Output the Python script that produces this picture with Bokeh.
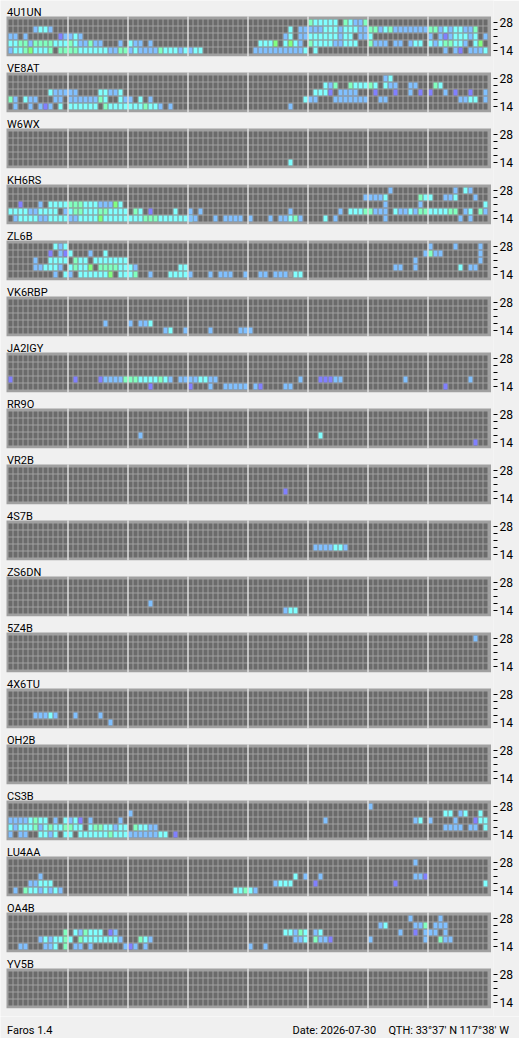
from bokeh.plotting import figure
from bokeh.layouts import column
from bokeh.models import Range1d, LinearAxis, FixedTicker, ColumnDataSource
from bokeh.embed import file_html
from bokeh.resources import INLINE
from bokeh.core.properties import value

# ---------------- data ----------------
STATIONS = ["4U1UN", "VE8AT", "W6WX", "KH6RS", "ZL6B", "VK6RBP", "JA2IGY", "RR9O", "VR2B",
            "4S7B", "ZS6DN", "5Z4B", "4X6TU", "OH2B", "CS3B", "LU4AA", "OA4B", "YV5B"]
BAND_LABELS = ["28", "", "", "", "14"]      # rows top -> bottom (28, 24, 21, 18, 14 MHz)
N_SLOTS = 96                                 # time slots per day
SLOTS_PER_BLOCK = 12
# signal level codes -> colours ('x' = no data)
LEVEL_COLORS = {"p": "#8080ff", "l": "#80c0ff", "c": "#80ffff",
                "a": "#80ffc0", "g": "#80ff80", "x": "#a0a0a0"}

# heard beacons: (band row, first slot, level codes; '.' = not heard)
S_4U1UN = [(0, 60, "accccc.aclla"),
           (1, 5, "lccl"), (1, 56, "c.lllllccclcccllaalcalllllllaalclcclla"),
           (2, 0, "ll.l"), (2, 10, "pllcl"), (2, 55, "lc.llcccccclcc.llc"), (2, 84, "l.lplccclc.l"),
           (3, 0, "ccaalaaaacccacllall"), (3, 22, "l.cll.l"),
           (3, 50, "cccg.cgcl.accccllccc..alll.ll.lcc.clcaaccl.cg"),
           (4, 0, "lccagccca.aaaaccccccllaalcllllaccclclcc"), (4, 49, "llllllllllc.c"),
           (4, 87, "l.lp.lllc")]
S_VE8AT = [(0, 75, "lc"),
           (1, 63, "cla..acccac.cll..ll...ac"),
           (2, 8, "clllll"), (2, 18, "ccllc"), (2, 61, "cccp.llll...p...p..l.p.p..l.p..p..l"),
           (3, 0, "al.cll...ll.llllllac..cll.c.l"), (3, 59, "cll...lllllll..ll"), (3, 90, "llcc.l"),
           (4, 1, "l..l.lpl.c.cccccc.acccccccaccl.l"), (4, 56, "l")]
S_W6WX = [(4, 56, "c")]
S_KH6RS = [(0, 76, "l"), (0, 89, "l.cl"),
           (1, 71, "llllc"), (1, 82, "acc..llc...l"),
           (2, 2, "p"), (2, 6, "l.ccccaaaccclllgc"), (2, 75, "l"), (2, 82, "l"), (2, 95, "c"),
           (3, 0, "ccccllcccc.lcaacccaacccc"), (3, 25, "ac.p"), (3, 33, "c"), (3, 36, "l.l"),
           (3, 56, "l"), (3, 66, "l.cccaalll.cllclaaccccaa.lc.al"),
           (4, 1, "lccccllccccllccccgccccccccaaaccccccc"), (4, 36, "ll"), (4, 41, "l.llll.l"),
           (4, 52, "l.llcal"), (4, 63, "c.l"), (4, 75, "l"), (4, 90, "l.l")]
S_ZL6B = [(0, 9, "clc"), (0, 84, "l"), (0, 89, "l"), (0, 94, "l"),
          (1, 8, "p.lpc...l..c"), (1, 83, "lall"), (1, 94, "l"),
          (2, 5, "l..cccc.acc.ccccccc"), (2, 81, "l"), (2, 94, "l"),
          (3, 5, "llcccl.caccg.aaaacccl"), (3, 34, "cc"), (3, 77, "ll"), (3, 81, "l"), (3, 90, "c.ll"),
          (4, 9, "l.cl.ccccccg.ccca"), (4, 28, "l"), (4, 32, "ccccl"), (4, 40, "l.lll"),
          (4, 47, "l"), (4, 50, "ll"), (4, 53, "lllxcc")]
S_VK6RBP = [(3, 19, "l"), (3, 24, "l.llc"),
            (4, 31, "lc"), (4, 35, "l"), (4, 40, "l"), (4, 46, "lll")]
S_JA2IGY = [(3, 0, "p"), (3, 13, "p"), (3, 18, "pllllaaaccccacl"), (3, 34, "llllccll"),
            (3, 58, "l"), (3, 62, "pppll"), (3, 79, "l"), (3, 92, "l"),
            (4, 28, "p"), (4, 36, "p"), (4, 40, "l"), (4, 43, "lllll"), (4, 49, "lp"),
            (4, 55, "ll"), (4, 87, "p")]
S_RR9O = [(3, 26, "l"), (3, 62, "c"), (4, 93, "p")]
S_VR2B = [(3, 55, "p")]
S_4S7B = [(3, 61, "llllccl")]
S_ZS6DN = [(3, 28, "l"), (4, 55, "lcc")]
S_5Z4B = [(0, 93, "l")]
S_4X6TU = [(3, 5, "lllcl"), (3, 13, "l"), (3, 18, "l"), (4, 20, "l")]
S_OH2B = []
S_CS3B = [(0, 72, "l"),
          (1, 24, "l"), (1, 87, "cc.lc..c"),
          (2, 0, "llllcacc.l.clcp.l"), (2, 22, "l"), (2, 63, "l"), (2, 81, "lc.l....l...pcc"),
          (3, 0, "clccca" "lcacca" "acc.ca" "acclcc" ".accll"), (3, 87, "llll.ll.c"),
          (4, 0, "l.ll..cclc.cc.ccccccacccllllllcc.p")]
S_LU4AA = [(0, 81, "l"),
           (2, 6, "l"), (2, 57, "c.l..l"), (2, 81, "llp"),
           (3, 4, "llccc"), (3, 53, "lccc"), (3, 61, "p"), (3, 77, "p"), (3, 95, "c"),
           (4, 1, "l.acclclcl"), (4, 45, "ccacl")]
S_OA4B = [(0, 80, "l"), (0, 86, "l"),
          (1, 74, "lc"), (1, 81, "lla.lll"),
          (2, 11, "a.claccc.pl"), (2, 55, "cclac.lc"), (2, 78, "l..p.lll.l"),
          (3, 6, "lclccac.acccccccl"), (3, 26, "acl"), (3, 57, "llc.allp"), (3, 72, "l"),
          (3, 83, "l"), (3, 86, "all"),
          (4, 2, "ll"), (4, 7, "llc.a.ll.l"), (4, 23, "lpl.l"), (4, 48, "l"), (4, 51, "l")]
S_YV5B = []
SPOTS = [S_4U1UN, S_VE8AT, S_W6WX, S_KH6RS, S_ZL6B, S_VK6RBP, S_JA2IGY, S_RR9O, S_VR2B,
         S_4S7B, S_ZS6DN, S_5Z4B, S_4X6TU, S_OH2B, S_CS3B, S_LU4AA, S_OA4B, S_YV5B]

FOOTER_TEXTS = ["Faros 1.4", "Date: 2026-07-30", "QTH: 33\u00b037' N", "117\u00b038' W"]

# ---------------- layout (x: 1 unit = 1 slot = 5px, y: 1 unit = 1 band row = 7px) ----------------
FONT = "Roboto"
FS = "11px"
BG = "#f0f0f0"
STRIDE = 8                    # rows per station panel (5 bands + spacing)
FRAME_W, FRAME_H = 493, 1016
FOOT_H = 1038 - FRAME_H
X0 = -2.0
Y_TOP = -22 / 7

p = figure(frame_width=FRAME_W, frame_height=FRAME_H,
           x_range=Range1d(X0, X0 + FRAME_W / 5),
           y_range=Range1d(Y_TOP + FRAME_H / 7, Y_TOP),
           x_axis_location=None, y_axis_location=None,
           output_backend="svg", toolbar_location=None,
           min_border=0, min_border_right=26,
           background_fill_color=BG, border_fill_color=BG,
           outline_line_color=None)
p.xgrid.visible = False
p.ygrid.visible = False

n = len(STATIONS)
P_TOP, P_BOT = -6 / 7, 33.7 / 7
# panel frames
p.quad(left=-0.8, right=96.1,
       top=[STRIDE * i + P_TOP for i in range(n)],
       bottom=[STRIDE * i + P_BOT for i in range(n)],
       fill_color="#a0a0a0", line_color=None)

# empty cells
bg = dict(l=[], r=[], t=[], b=[])
for i in range(n):
    for row in range(len(BAND_LABELS)):
        for s in range(N_SLOTS):
            k = STRIDE * i + row
            bg["l"].append(s - 0.4); bg["r"].append(s + 0.4)
            bg["t"].append(k - 3 / 7); bg["b"].append(k + 3 / 7)
p.quad(left="l", right="r", top="t", bottom="b", source=ColumnDataSource(bg),
       fill_color="#6b6b6b", line_color=None)

# heard cells
hc = dict(l=[], r=[], t=[], b=[], c=[])
for i, spots in enumerate(SPOTS):
    for row, start, codes in spots:
        for j, ch in enumerate(codes):
            if ch == ".":
                continue
            s = start + j
            k = STRIDE * i + row
            hc["l"].append(s - 0.4); hc["r"].append(s + 0.4)
            hc["t"].append(k - 3 / 7); hc["b"].append(k + 3 / 7)
            hc["c"].append(LEVEL_COLORS[ch])
p.quad(left="l", right="r", top="t", bottom="b", fill_color="c", source=ColumnDataSource(hc),
       line_color=None)

# 3-hour separators
sep = dict(l=[], r=[], t=[], b=[])
for i in range(n):
    for blk in range(1, N_SLOTS // SLOTS_PER_BLOCK):
        x = blk * SLOTS_PER_BLOCK - 0.5
        sep["l"].append(x - 0.1); sep["r"].append(x + 0.1)
        sep["t"].append(STRIDE * i + P_TOP); sep["b"].append(STRIDE * i + P_BOT)
p.quad(left="l", right="r", top="t", bottom="b", source=ColumnDataSource(sep),
       fill_color="white", line_color=None)

# station names
p.text(x=-0.7, y=[STRIDE * i - 10 / 7 for i in range(n)], text=STATIONS,
       text_font=value(FONT), text_font_size=FS, text_baseline="alphabetic",
       text_align="left", text_color="black")

# band axis on the right
ticks = [STRIDE * i + r for i in range(n) for r in range(len(BAND_LABELS))]
overrides = {STRIDE * i + r: BAND_LABELS[r] for i in range(n) for r in range(len(BAND_LABELS))}
ax = LinearAxis(ticker=FixedTicker(ticks=ticks), major_label_overrides=overrides,
                axis_line_color=None, major_tick_out=4, major_tick_in=0,
                minor_tick_line_color=None, major_tick_line_color="black",
                major_label_standoff=2, major_label_text_font=FONT,
                major_label_text_font_size="12px", major_label_text_color="black")
p.add_layout(ax, "right")

# ---------------- footer strip (x, y in page pixels) ----------------
f = figure(frame_width=519, frame_height=FOOT_H,
           x_range=Range1d(0, 519), y_range=Range1d(1038, FRAME_H),
           x_axis_location=None, y_axis_location=None,
           output_backend="svg", toolbar_location=None, min_border=0,
           background_fill_color=BG, border_fill_color=BG, outline_line_color=None)
f.xgrid.visible = False
f.ygrid.visible = False
f.text(x=[6.5, 292, 388, 459], y=[1029.5] * 4, text=FOOTER_TEXTS,
       text_font=value(FONT), text_font_size=FS, text_baseline="alphabetic",
       text_align="left", text_color="black")

layout = column(p, f, spacing=0)
open("out.html", "w").write(file_html(layout, INLINE))
